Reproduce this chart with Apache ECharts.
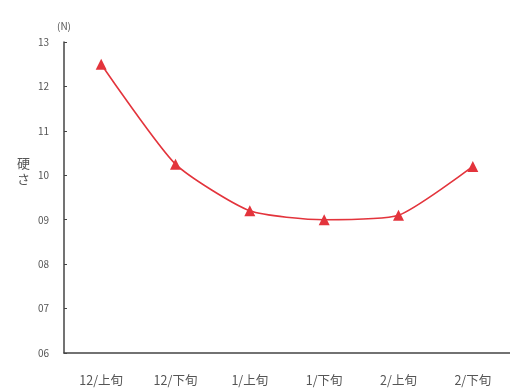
<!DOCTYPE html>
<html>
<head>
<meta charset="utf-8">
<script src="https://cdn.jsdelivr.net/npm/echarts@6/dist/echarts.min.js"></script>
<style>
  html, body { margin: 0; padding: 0; background: #fff; }
  #chart { width: 510px; height: 392px; }
</style>
</head>
<body>
<div id="chart"></div>
<script>
// 時期ごとの硬さ (N)
const periods = ['12/上旬', '12/下旬', '1/上旬', '1/下旬', '2/上旬', '2/下旬'];
const hardness = [12.5, 10.25, 9.2, 9.0, 9.1, 10.2];
const yMin = 6;
const yMax = 13;
const yStep = 1;

const font = '"Noto Sans CJK JP", "Noto Sans", sans-serif';
const chart = echarts.init(document.getElementById('chart'));

chart.setOption({
  backgroundColor: '#ffffff',
  animation: false,
  grid: { left: 64, top: 42, width: 450, bottom: 39, containLabel: false },
  xAxis: {
    type: 'category',
    data: periods,
    boundaryGap: true,
    axisLine: { lineStyle: { color: '#444', width: 1.5 } },
    axisTick: { inside: true, length: 3, lineStyle: { color: '#444' } },
    axisLabel: { color: '#555', fontSize: 12.5, fontFamily: font, margin: 21 }
  },
  yAxis: {
    type: 'value',
    min: yMin,
    max: yMax,
    interval: yStep,
    name: '(N)',
    nameLocation: 'end',
    nameGap: 11,
    nameTextStyle: { color: '#555', fontSize: 10, fontFamily: font, align: 'center' },
    splitLine: { show: false },
    axisLine: { show: true, lineStyle: { color: '#444', width: 1.5 } },
    axisTick: { show: true, inside: true, length: 3, lineStyle: { color: '#444' } },
    axisLabel: {
      color: '#555', fontSize: 10, fontFamily: font, margin: 15,
      formatter: v => String(v).padStart(2, '0')
    }
  },
  graphic: [{
    type: 'text',
    left: 17,
    top: 155,
    style: {
      text: '硬\nさ',
      fill: '#555',
      font: '13px ' + font,
      lineHeight: 16
    }
  }],
  series: [{
    type: 'line',
    data: hardness,
    smooth: 0.2,
    symbol: 'triangle',
    symbolSize: 11,
    lineStyle: { color: '#e3343c', width: 1.6 },
    itemStyle: { color: '#e3343c' }
  }]
});
</script>
</body>
</html>
